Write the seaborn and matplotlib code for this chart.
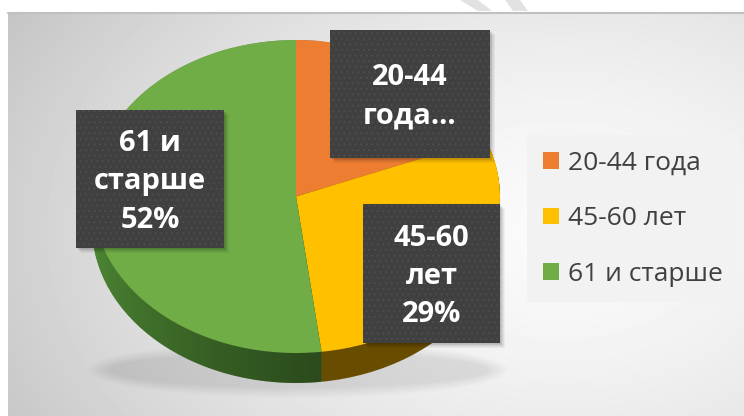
import numpy as np
import seaborn as sns
import matplotlib.pyplot as plt
from matplotlib.patches import Rectangle, Ellipse, Polygon, PathPatch
from matplotlib.path import Path

sns.set_theme(style='white')
plt.rcParams['font.family'] = ['Open Sans', 'DejaVu Sans']
plt.rcParams['hatch.linewidth'] = 0.6

# --------------------------
# Dados
# --------------------------
categories = ['20-44 года', '45-60 лет', '61 и старше']
shares = [19, 29, 52]
box_labels = ['20-44\nгода…', '45-60\nлет\n29%', '61 и\nстарше\n52%']
top_colors = ['#ed7d31', '#ffc000', '#70ad47']
side_colors = ['#8a4716', '#684c00', '#4f8a35']

# --------------------------
# Layout (pixels, origem no canto superior esquerdo)
# --------------------------
W, H = 744, 416
PIE_BOX = (92, 40, 500, 383)      # x0, y0, x1, y1 incluindo a espessura
DEPTH_PX = 30
LABEL_BOXES = [(330, 30, 490, 158), (363, 204, 500, 343), (76, 110, 224, 248)]


def frac(x0, y0, x1, y1):
    return [x0 / W, 1 - y1 / H, (x1 - x0) / W, (y1 - y0) / H]


fig = plt.figure(figsize=(W / 100, H / 100), dpi=100)
fig.patch.set_facecolor('white')

# fundo com gradiente
bg = fig.add_axes([0, 0, 1, 1])
bg.set_xlim(0, W)
bg.set_ylim(H, 0)
bg.axis('off')
yy, xx = np.mgrid[12:H, 8:W]
r = np.hypot((xx - 560) / 560, (yy - 230) / 380)
shade = 0.98 - 0.17 * r ** 1.6
bg.imshow(shade, cmap='gray', vmin=0, vmax=1, extent=(8, W, H, 12), aspect='auto', interpolation='bilinear')
bg.plot([8, W], [12.5, 12.5], color='#c0c0c0', lw=1.5)
# marca d'agua no topo
bg.add_patch(Polygon([(460, 0), (478, 0), (492, 11), (478, 11)], color='#e2e2e2', lw=0))
bg.add_patch(Polygon([(505, 0), (520, 0), (528, 11), (513, 11)], color='#e2e2e2', lw=0))
# sombra da pizza
for k in range(8):
    bg.add_patch(Ellipse((298, 370), 420 - k * 6, 56 - k * 3, color='black', alpha=0.012, lw=0))

# --------------------------
# Pizza 3D (camadas empilhadas)
# --------------------------
ax = fig.add_axes(frac(*PIE_BOX))
b_px = (PIE_BOX[3] - PIE_BOX[1] - DEPTH_PX) / 2
depth = DEPTH_PX / b_px
for d in np.linspace(depth, 0.005, 32):
    ax.pie(shares, colors=side_colors, startangle=90, counterclock=False,
           center=(0, -d), radius=1, wedgeprops=dict(linewidth=0, zorder=1))

# sombreamento lateral (escurece em direcao a frente)
t = np.linspace(0, np.pi, 120)
verts = np.concatenate([np.c_[np.cos(t), np.sin(t)],
                        np.c_[np.cos(t + np.pi), np.sin(t + np.pi) - depth]])
clip = PathPatch(Path(verts), transform=ax.transData, facecolor='none', lw=0)
gx = np.linspace(-1, 1, 400)
edge = np.sin(np.deg2rad(360 * (1 - shares[2] / sum(shares)) - 180))  # limite verde/amarelo
alpha = np.where(gx < -edge, 0.46 * np.clip((gx + 1) / (1 - edge), 0, 1) ** 0.6, 0)
overlay = np.zeros((2, gx.size, 4))
overlay[..., 3] = alpha
im = ax.imshow(overlay, extent=(-1, 1, -1 - depth, 1), aspect='auto', zorder=1.5,
               interpolation='bilinear')
im.set_clip_path(clip)

wedges, _ = ax.pie(shares, colors=top_colors, startangle=90, counterclock=False,
                   radius=1, wedgeprops=dict(linewidth=0, zorder=2))
ax.set_aspect('auto')
ax.set_xlim(-1, 1)
ax.set_ylim(-1 - depth, 1)
ax.axis('off')

# --------------------------
# Caixas de rotulos
# --------------------------
ov = fig.add_axes([0, 0, 1, 1])
ov.set_xlim(0, W)
ov.set_ylim(H, 0)
ov.axis('off')
ov.patch.set_alpha(0)
for (x0, y0, x1, y1), txt in zip(LABEL_BOXES, box_labels):
    for k in range(1, 7):
        ov.add_patch(Rectangle((x0 + k * 0.8, y0 + k * 0.8), x1 - x0, y1 - y0,
                               color='black', alpha=0.045, lw=0))
    ov.add_patch(Rectangle((x0, y0), x1 - x0, y1 - y0, facecolor='#404040', lw=0))
    ov.add_patch(Rectangle((x0, y0), x1 - x0, y1 - y0, facecolor='none',
                           edgecolor='#4f4f4f', hatch='...', lw=0))
    ov.text((x0 + x1) / 2, (y0 + y1) / 2 + 3, txt, color='white', fontsize=21,
            fontweight='bold', ha='center', va='center', linespacing=1.42)

# --------------------------
# Legenda
# --------------------------
leg = fig.legend(wedges, categories, loc='upper left',
                 bbox_to_anchor=(527 / W, 1 - 135 / H), bbox_transform=fig.transFigure,
                 frameon=True, fancybox=False, facecolor='#f2f2f2', edgecolor='none',
                 framealpha=1, fontsize=19, labelcolor='#404040',
                 handlelength=0.6, handleheight=0.6, handletextpad=0.35,
                 labelspacing=1.15, borderpad=0.6, borderaxespad=0)

fig.savefig('out.png', dpi=100)
